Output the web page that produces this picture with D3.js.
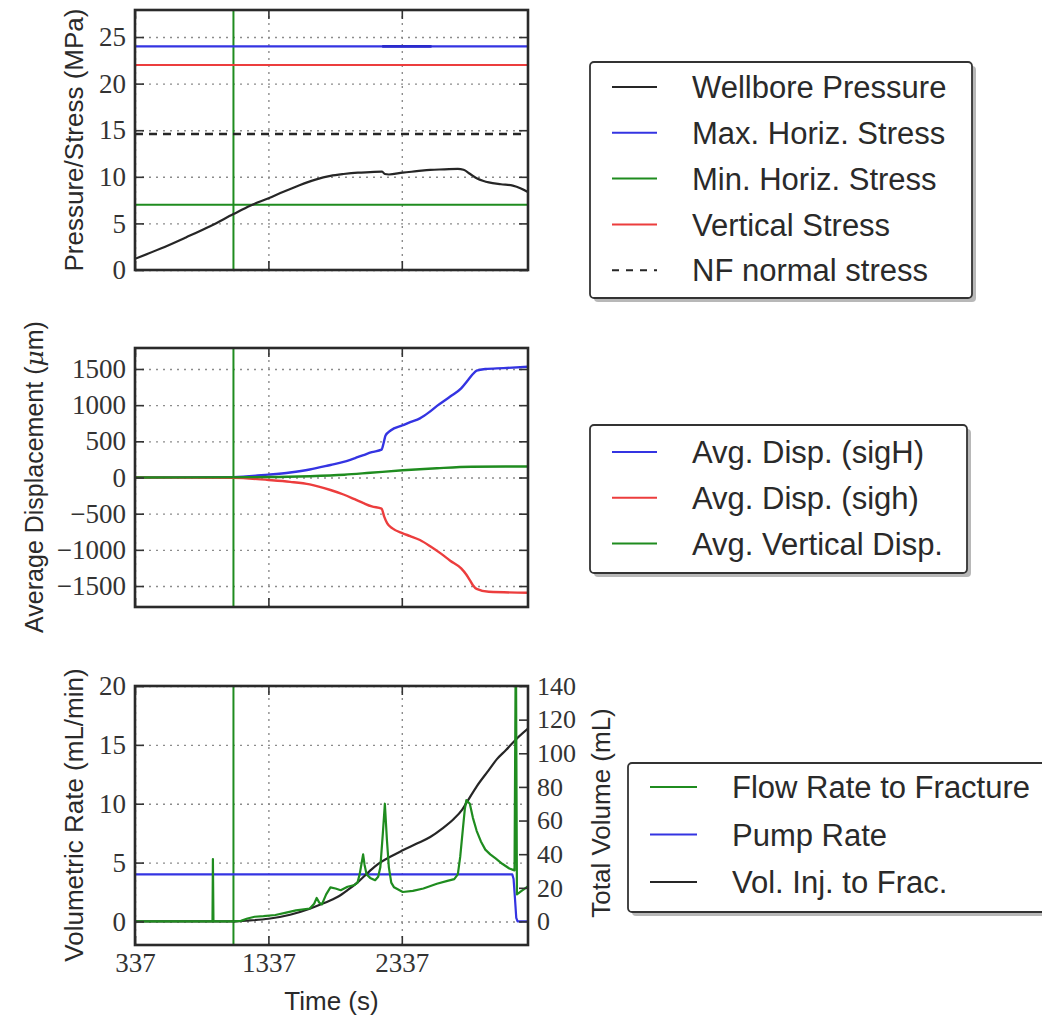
<!DOCTYPE html>
<html>
<head>
<meta charset="utf-8">
<script src="https://cdn.jsdelivr.net/npm/d3@7"></script>
<style>
  body { margin: 0; background: #fff; }
  .tick text { font-family: "Liberation Serif", "DejaVu Serif", serif; fill: #333; }
  .grid line { stroke: #8c8c8c; stroke-width: 1.4; stroke-dasharray: 2,5; }
  .grid path, .ax path { display: none; }
  .ax line { stroke: #333; stroke-width: 1.6; }
  .lab { font-family: "Liberation Sans", Arial, sans-serif; fill: #2a2a2a; }
</style>
</head>
<body>
<div id="chart"></div>
<script>
// values, time in s
const timeDomain = [337, 3283];
const timeTicks = [337, 1337, 2337];
const markerTime = 1075;

// top panel (MPa)
const pressTicks = [0, 5, 10, 15, 20, 25];
const wellbore = [[337,1.2],[530,2.3],[719,3.5],[900,4.7],[1075,6.0],[1200,6.9],[1338,7.7],[1450,8.4],
  [1570,9.1],[1690,9.7],[1802,10.1],[1900,10.3],[2008,10.45],[2100,10.5],[2189,10.55],[2210,10.3],
  [2240,10.25],[2344,10.45],[2450,10.6],[2550,10.75],[2657,10.8],[2757,10.85],[2800,10.75],
  [2850,10.3],[2898,9.85],[2950,9.55],[2989,9.4],[3080,9.2],[3169,9.05],[3230,8.75],[3285,8.35]];
const maxHorizStress = 24;
const maxHorizOverlap = [2190, 2560];
const minHorizStress = 7;
const verticalStress = 22;
const nfNormalStress = 14.6;

// middle panel (um)
const dispTicks = [-1500, -1000, -500, 0, 500, 1000, 1500];
const dispSigH = [[337,0],[1075,5],[1338,40],[1500,70],[1647,110],[1802,173],[1900,215],[1983,265],
  [2050,310],[2112,350],[2185,385],[2200,470],[2215,580],[2253,650],[2344,722],[2400,765],[2473,818],
  [2540,900],[2601,990],[2700,1120],[2782,1233],[2834,1348],[2870,1430],[2898,1477],[2963,1500],
  [3100,1512],[3285,1532]];
const dispSigh = [[337,0],[1075,-5],[1338,-35],[1500,-60],[1647,-95],[1802,-173],[1900,-235],
  [1983,-300],[2050,-355],[2112,-400],[2185,-430],[2205,-540],[2228,-634],[2267,-703],[2344,-772],
  [2400,-810],[2473,-864],[2550,-950],[2628,-1049],[2700,-1150],[2782,-1256],[2820,-1340],
  [2847,-1418],[2870,-1490],[2898,-1540],[2989,-1580],[3285,-1593]];
const dispVert = [[337,0],[1338,6],[1650,18],[1906,38],[2100,65],[2344,100],[2600,128],[2860,148],[3285,152]];

// bottom panel (mL/min, mL)
const rateTicks = [0, 5, 10, 15, 20];
const volTicks = [0, 20, 40, 60, 80, 100, 120, 140];
const flowRate = [[337,0],[918,0],[921,5.3],[925,0],[1075,0],[1131,0.05],[1180,0.25],[1234,0.4],
  [1300,0.45],[1389,0.55],[1470,0.75],[1544,0.94],[1647,1.1],[1680,1.5],[1699,2.0],[1718,1.6],
  [1738,1.45],[1770,2.3],[1802,2.9],[1840,2.8],[1879,2.65],[1930,2.95],[1983,3.1],[2005,3.3],
  [2021,4.0],[2035,4.9],[2047,5.7],[2058,4.8],[2073,4.0],[2100,3.7],[2137,3.5],[2160,3.8],
  [2176,4.6],[2195,7.5],[2210,10.0],[2225,7.0],[2240,4.6],[2258,3.3],[2279,2.9],[2344,2.5],
  [2420,2.6],[2499,2.8],[2600,3.2],[2679,3.45],[2730,3.6],[2757,4.0],[2775,5.5],[2796,8.0],
  [2810,9.6],[2821,10.3],[2847,10.0],[2870,8.8],[2898,7.7],[2930,6.8],[2963,6.1],[3000,5.7],
  [3040,5.35],[3090,4.9],[3143,4.5],[3182,4.34],[3192,25],[3200,2.3],[3235,2.6],[3285,3.0]];
const pumpRate = [[337,4],[3165,4],[3175,3.6],[3185,2],[3195,0.3],[3205,0],[3285,0]];
const volInjected = [[337,0],[1075,0],[1200,0.6],[1338,1.6],[1500,4.0],[1647,7.6],[1750,10.8],
  [1854,14.5],[1930,18.6],[2008,23.4],[2090,29.5],[2163,34.4],[2250,38.5],[2344,42.3],[2450,46.3],
  [2550,50.2],[2640,55.2],[2730,61.2],[2790,66.5],[2834,72.1],[2900,80.5],[2989,90],[3050,96.5],
  [3118,101.9],[3200,108.8],[3285,114.8]];

const C = { black: '#262626', blue: '#3434e2', green: '#1f8c1f', red: '#ec3d3d' };

const svg = d3.select('#chart').append('svg')
  .attr('width', 1042).attr('height', 1017);

const L = 135, R = 528;
const x = d3.scaleLinear().domain(timeDomain).range([L, R]);
const fmt = d3.format('d');

function panel(id, top, bottom, yDomain, yTicks, showX) {
  const y = d3.scaleLinear().domain(yDomain).range([bottom, top]);
  const g = svg.append('g');

  svg.append('clipPath').attr('id', id)
    .append('rect').attr('x', L).attr('y', top).attr('width', R - L).attr('height', bottom - top);

  g.append('g').attr('class', 'grid').attr('transform', `translate(${L},0)`)
    .call(d3.axisLeft(y).tickValues(yTicks).tickSize(-(R - L)).tickFormat(''));
  g.append('g').attr('class', 'grid').attr('transform', `translate(0,${bottom})`)
    .call(d3.axisBottom(x).tickValues(timeTicks).tickSize(-(bottom - top)).tickFormat(''));

  const plot = g.append('g').attr('clip-path', `url(#${id})`);

  // marker line
  plot.append('line')
    .attr('x1', x(markerTime)).attr('x2', x(markerTime))
    .attr('y1', top).attr('y2', bottom)
    .attr('stroke', C.green).attr('stroke-width', 2);

  const axes = svg.append('g');
  axes.append('g').attr('class', 'ax').attr('transform', `translate(${L},0)`)
    .call(d3.axisLeft(y).tickValues(yTicks).tickSize(-9).tickPadding(9).tickFormat(fmt))
    .selectAll('text').style('font-size', '27px');
  axes.append('g').attr('class', 'ax').attr('transform', `translate(0,${top})`)
    .call(d3.axisTop(x).tickValues(timeTicks).tickSize(-9).tickFormat(''));
  const bx = axes.append('g').attr('class', 'ax').attr('transform', `translate(0,${bottom})`)
    .call(d3.axisBottom(x).tickValues(timeTicks).tickSize(-9).tickPadding(8)
      .tickFormat(showX ? fmt : ''));
  bx.selectAll('text').style('font-size', '27px');

  const frame = axes.append('rect')
    .attr('x', L).attr('y', top).attr('width', R - L).attr('height', bottom - top)
    .attr('fill', 'none').attr('stroke', '#2a2a2a').attr('stroke-width', 2.6);

  return { y, plot, axes, frame };
}

function line(plot, y, data, color, width, dash, smooth) {
  const gen = d3.line().x(d => x(d[0])).y(d => y(d[1]));
  if (smooth) gen.curve(d3.curveMonotoneX);
  const p = plot.append('path')
    .datum(data)
    .attr('fill', 'none')
    .attr('stroke', color)
    .attr('stroke-width', width || 2.2)
    .attr('stroke-linejoin', 'round')
    .attr('d', gen);
  if (dash) p.attr('stroke-dasharray', dash);
  return p;
}

function yLabel(cx, cy, text) {
  return svg.append('text').attr('class', 'lab')
    .attr('transform', `translate(${cx},${cy}) rotate(-90)`)
    .attr('text-anchor', 'middle').attr('dy', '0.36em')
    .style('font-size', '26px')
    .text(text);
}

function legend(bx, by, bw, bh, rowY, gap, lx0, lx1, tx, entries) {
  const g = svg.append('g');
  g.append('rect').attr('x', bx + 4).attr('y', by + 4).attr('width', bw).attr('height', bh)
    .attr('rx', 4).attr('fill', '#9a9a9a').attr('opacity', 0.7);
  g.append('rect').attr('x', bx).attr('y', by).attr('width', bw).attr('height', bh)
    .attr('rx', 4).attr('fill', '#fff').attr('stroke', '#333').attr('stroke-width', 1.8);
  entries.forEach((e, i) => {
    const cy = rowY + i * gap;
    const ln = g.append('line').attr('x1', lx0).attr('x2', lx1).attr('y1', cy).attr('y2', cy)
      .attr('stroke', e.color).attr('stroke-width', 2);
    if (e.dash) ln.attr('stroke-dasharray', e.dash);
    g.append('text').attr('class', 'lab').attr('x', tx).attr('y', cy).attr('dy', '0.36em')
      .style('font-size', '31px').text(e.label);
  });
}

// ---- top panel
const p1 = panel('clip1', 10, 270, [0, 27.9], pressTicks, false);
[[maxHorizStress, C.blue], [verticalStress, C.red], [minHorizStress, C.green]].forEach(([v, c]) => {
  line(p1.plot, p1.y, [[timeDomain[0], v], [timeDomain[1], v]], c);
});
line(p1.plot, p1.y, maxHorizOverlap.map(t => [t, maxHorizStress]), '#2a2acc', 2.6);
line(p1.plot, p1.y, [[timeDomain[0], nfNormalStress], [timeDomain[1], nfNormalStress]], C.black, 2.6, '8,6');
line(p1.plot, p1.y, wellbore, C.black, 2.2, null, true);
yLabel(74, 140, 'Pressure/Stress (MPa)');

// ---- middle panel
const p2 = panel('clip2', 348, 607, [-1790, 1790], dispTicks, false);
line(p2.plot, p2.y, dispSigH, C.blue, 2.4, null, true);
line(p2.plot, p2.y, dispSigh, C.red, 2.4, null, true);
line(p2.plot, p2.y, dispVert, C.green, 2.4, null, true);
const mid = yLabel(34, 477, '');
mid.style('font-size', '25px');
mid.append('tspan').text('Average Displacement (');
mid.append('tspan').style('font-family', '"DejaVu Serif", serif').style('font-style', 'italic').text('\u03bc');
mid.append('tspan').text('m)');

// ---- bottom panel
const p3 = panel('clip3', 686, 945, [-2, 20], rateTicks, true);
const yVol = d3.scaleLinear().domain([-14, 140]).range([945, 686]);
line(p3.plot, p3.y, pumpRate, C.blue);
line(p3.plot, yVol, volInjected, C.black, 2.2, null, true);
line(p3.plot, p3.y, flowRate, C.green, 2.2);
p3.axes.append('g').attr('class', 'ax').attr('transform', `translate(${R},0)`)
  .call(d3.axisRight(yVol).tickValues(volTicks).tickSize(-9).tickPadding(9).tickFormat(fmt))
  .selectAll('text').style('font-size', '26px');
p3.frame.raise();
yLabel(74, 815, 'Volumetric Rate (mL/min)');
yLabel(601, 813, 'Total Volume (mL)');
svg.append('text').attr('class', 'lab').attr('x', (L + R) / 2).attr('y', 1010)
  .attr('text-anchor', 'middle').style('font-size', '26px').text('Time (s)');

// right ticks on top and middle panels
[p1, p2].forEach((p, i) => {
  p.axes.append('g').attr('class', 'ax').attr('transform', `translate(${R},0)`)
    .call(d3.axisRight(p.y).tickValues(i === 0 ? pressTicks : dispTicks).tickSize(-9).tickFormat(''));
  p.frame.raise();
});

// ---- legends
legend(590, 62, 382, 236, 87, 45.8, 612, 657, 692, [
  { label: 'Wellbore Pressure', color: C.black },
  { label: 'Max. Horiz. Stress', color: C.blue },
  { label: 'Min. Horiz. Stress', color: C.green },
  { label: 'Vertical Stress', color: C.red },
  { label: 'NF normal stress', color: C.black, dash: '7,7' }
]);
legend(590, 425, 377, 148, 452, 45.7, 612, 657, 692, [
  { label: 'Avg. Disp. (sigH)', color: C.blue },
  { label: 'Avg. Disp. (sigh)', color: C.red },
  { label: 'Avg. Vertical Disp.', color: C.green }
]);
legend(628, 763, 430, 149, 787, 47.5, 650, 697, 732, [
  { label: 'Flow Rate to Fracture', color: C.green },
  { label: 'Pump Rate', color: C.blue },
  { label: 'Vol. Inj. to Frac.', color: C.black }
]);
</script>
</body>
</html>
